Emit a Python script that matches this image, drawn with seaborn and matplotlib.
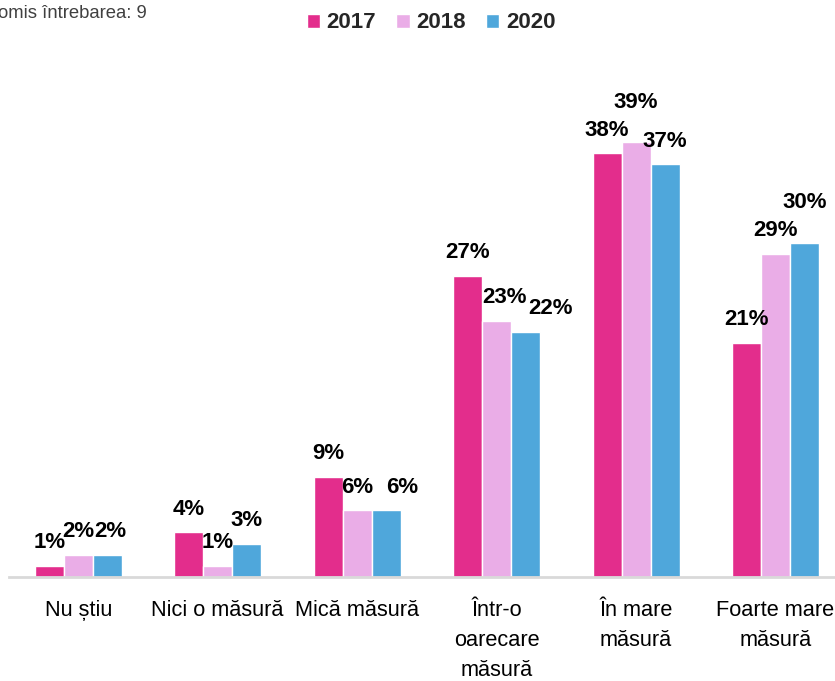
import pandas as pd
import seaborn as sns
import matplotlib.pyplot as plt
from matplotlib import font_manager

# Date
categorii = ["Nu știu", "Nici o măsură", "Mică măsură", "Într-o\noarecare\nmăsură",
             "În mare\nmăsură", "Foarte mare\nmăsură"]
ani = ["2017", "2018", "2020"]
v2017 = [1, 4, 9, 27, 38, 21]
v2018 = [2, 1, 6, 23, 39, 29]
v2020 = [2, 3, 6, 22, 37, 30]
culori = ["#E32D8C", "#EAADE7", "#4FA7DB"]

df = pd.DataFrame({
    "categorie": categorii * 3,
    "an": [a for a in ani for _ in categorii],
    "valoare": v2017 + v2018 + v2020,
})

sns.set_style("white")
nume = {f.name for f in font_manager.fontManager.ttflist}
ingust = "Liberation Sans Narrow" if "Liberation Sans Narrow" in nume else "Liberation Sans"
plt.rcParams["font.family"] = [ingust, "DejaVu Sans"]

fig = plt.figure(figsize=(8.35, 6.81), dpi=100)
ax = fig.add_axes([8.5 / 835, 104 / 681, 836.7 / 835, 446 / 681])

sns.barplot(data=df, x="categorie", y="valoare", hue="an", palette=culori,
            width=0.624, saturation=1, ax=ax, legend=True)

# etichete mutate ca sa nu se suprapuna: (serie, categorie) -> (dx, dy) in puncte
mutate = {(2, 0): (2, 9), (2, 2): (11.5, 9), (1, 3): (6, 9), (2, 3): (18, 9),
          (1, 4): (0, 21), (2, 5): (0, 21)}
for i, cont in enumerate(ax.containers):
    texte = ax.bar_label(cont, labels=[f"{int(b.get_height())}%" for b in cont],
                         padding=9, fontsize=16, fontweight="bold", color="black")
    for j, t in enumerate(texte):
        if (i, j) in mutate:
            t.xyann = mutate[(i, j)]

ax.set_ylim(0, 40)
ax.set_xlim(-0.5, 5.5)
ax.set_xlabel("")
ax.set_ylabel("")
ax.set_yticks([])
ax.tick_params(axis="x", length=0, pad=16.5, labelsize=15.7, labelcolor="black")
for t in ax.get_xticklabels():
    t.set_linespacing(1.58)
for s in ["top", "right", "left"]:
    ax.spines[s].set_visible(False)
ax.spines["bottom"].set_color("#d9d9d9")
ax.spines["bottom"].set_linewidth(2)

h, l = ax.get_legend_handles_labels()
ax.get_legend().remove()
fig.legend(h, l, loc="center", bbox_to_anchor=(431 / 835, 1 - 23 / 681), ncol=3,
           frameon=False, prop={"family": ingust, "weight": "bold", "size": 16},
           handlelength=0.6, handleheight=0.6, handletextpad=0.3, columnspacing=0.9)

fig.text(-0.002, 1 - 18 / 681, "omis întrebarea: 9", fontsize=13.3, color="#404040",
         family="Liberation Sans", ha="left", va="baseline")

fig.savefig("out.png", dpi=100)
